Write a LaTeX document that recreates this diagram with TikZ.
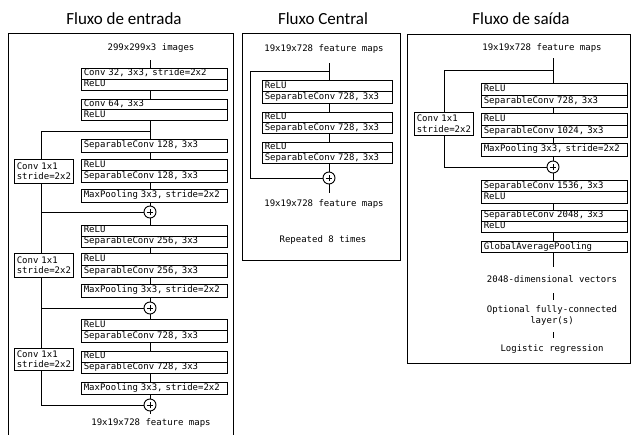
\documentclass[tikz,border=0pt]{standalone}
\usepackage{fontspec}
\setmainfont{Carlito}
\newfontfamily\monof{DejaVu Sans Mono}
\pgfdeclarelayer{bg}
\pgfsetlayers{bg,main}
\newcommand\mfont{\monof\fontsize{9}{10.5}\selectfont}
\begin{document}
\begin{tikzpicture}[x=1pt,y=-1pt,
  every node/.style={inner sep=0pt, outer sep=0pt},
  ttl/.style={font=\fontsize{17}{20}\selectfont},
  lbl/.style={font=\mfont, align=center},
  cell/.style={draw, fill=white, line width=0.9pt, anchor=north west, inner xsep=2.8pt, inner ysep=0pt,
    text width=#1, align=left, font=\mfont, text height=6.5pt, text depth=1.7pt},
  cell/.default=140.4pt,
  cnv/.style={draw, fill=white, line width=0.9pt, anchor=north west, inner xsep=2.8pt, inner ysep=0pt,
    text width=53.4pt, align=left, font=\mfont},
  plusnode/.style={circle, draw, fill=white, line width=0.9pt, minimum size=12pt, inner sep=0pt,
    path picture={\draw[line width=0.6pt] ([xshift=-3.3pt]path picture bounding box.center) -- ([xshift=3.3pt]path picture bounding box.center);
      \draw[line width=0.6pt] ([yshift=-3.3pt]path picture bounding box.center) -- ([yshift=3.3pt]path picture bounding box.center);}},
  conn/.style={line width=0.9pt},
  frame/.style={line width=0.9pt}
]
\useasboundingbox (0,0) rectangle (632,434);

% ---------- titles ----------
\node[ttl] (T1) at (124,19) {Fluxo de entrada};
\node[ttl] (T2) at (323,19) {Fluxo Central};
\node[ttl] (T3) at (521,19) {Fluxo de saída};

% ---------- frames ----------
\draw[frame] (8,440) -- (8,33) -- (233,33) -- (233,440);
\draw[frame] (242,33) rectangle (400,260);
\draw[frame] (407,34) rectangle (630.5,363);

% ---------- left panel ----------
\node[lbl] (in) at (151,48) {299x299x3 images};
\node[cell, minimum height=11pt] (B1a) at (81,68) {Conv 32, 3x3, stride=2x2};
\node[cell, minimum height=11pt] (B1b) at (B1a.south west) {ReLU};
\node[cell, minimum height=10.5pt] (B2a) at (81,99) {Conv 64, 3x3};
\node[cell, minimum height=10.5pt] (B2b) at (B2a.south west) {ReLU};
\node[cell, minimum height=13pt] (B3) at (81,139) {SeparableConv 128, 3x3};
\node[cell, minimum height=11.5pt] (B4a) at (81,159) {ReLU};
\node[cell, minimum height=11.5pt] (B4b) at (B4a.south west) {SeparableConv 128, 3x3};
\node[cell, minimum height=13pt] (B5) at (81,189) {MaxPooling 3x3, stride=2x2};
\node[plusnode] (P1) at (150,212) {};
\node[cell, minimum height=11pt] (B6a) at (81,225) {ReLU};
\node[cell, minimum height=11pt] (B6b) at (B6a.south west) {SeparableConv 256, 3x3};
\node[cell, minimum height=12pt] (B7a) at (81,253) {ReLU};
\node[cell, minimum height=12pt] (B7b) at (B7a.south west) {SeparableConv 256, 3x3};
\node[cell, minimum height=13pt] (B8) at (81,284) {MaxPooling 3x3, stride=2x2};
\node[plusnode] (P2) at (150,308) {};
\node[cell, minimum height=11.5pt] (B9a) at (81,319) {ReLU};
\node[cell, minimum height=11.5pt] (B9b) at (B9a.south west) {SeparableConv 728, 3x3};
\node[cell, minimum height=11pt] (B10a) at (81,351) {ReLU};
\node[cell, minimum height=11pt] (B10b) at (B10a.south west) {SeparableConv 728, 3x3};
\node[cell, minimum height=12pt] (B11) at (81,382) {MaxPooling 3x3, stride=2x2};
\node[plusnode] (P3) at (150,405) {};
\node[lbl] (out1) at (151,423) {19x19x728 feature maps};
\node[cnv, minimum height=24pt] (C1) at (14,159) {Conv 1x1\\stride=2x2};
\node[cnv, minimum height=24pt] (C2) at (14,253) {Conv 1x1\\stride=2x2};
\node[cnv, minimum height=22pt] (C3) at (14,348) {Conv 1x1\\stride=2x2};

\coordinate (Ltop) at (150,60);
\coordinate (J1) at (150,131);
\coordinate (S1) at (41,131);
\coordinate (Lbot) at (150,414);

% ---------- central panel ----------
\node[lbl] (cin) at (324,49) {19x19x728 feature maps};
\node[cell=124.4pt, minimum height=11.5pt] (M1a) at (262,80) {ReLU};
\node[cell=124.4pt, minimum height=11.5pt] (M1b) at (M1a.south west) {SeparableConv 728, 3x3};
\node[cell=124.4pt, minimum height=10.5pt] (M2a) at (262,112) {ReLU};
\node[cell=124.4pt, minimum height=10.5pt] (M2b) at (M2a.south west) {SeparableConv 728, 3x3};
\node[cell=124.4pt, minimum height=10.5pt] (M3a) at (262,142) {ReLU};
\node[cell=124.4pt, minimum height=10.5pt] (M3b) at (M3a.south west) {SeparableConv 728, 3x3};
\node[plusnode] (CP) at (329,178) {};
\node[lbl] (cout) at (324,204) {19x19x728 feature maps};
\node[lbl] (rep) at (323,240) {Repeated 8 times};
\coordinate (Ctop) at (329,63);
\coordinate (CJ) at (329,71);
\coordinate (CS) at (250,71);
\coordinate (Cbot) at (329,193);

% ---------- right panel ----------
\node[lbl] (rin) at (542,48) {19x19x728 feature maps};
\node[cell, minimum height=12pt] (R1a) at (481,83) {ReLU};
\node[cell, minimum height=12pt] (R1b) at (R1a.south west) {SeparableConv 728, 3x3};
\node[cell, minimum height=12pt] (R2a) at (481,113) {ReLU};
\node[cell, minimum height=12pt] (R2b) at (R2a.south west) {SeparableConv 1024, 3x3};
\node[cell, minimum height=13pt] (R3) at (481,143) {MaxPooling 3x3, stride=2x2};
\node[plusnode] (RP) at (553,167) {};
\node[cell, minimum height=11.5pt] (R4a) at (481,180) {SeparableConv 1536, 3x3};
\node[cell, minimum height=11.5pt] (R4b) at (R4a.south west) {ReLU};
\node[cell, minimum height=11pt] (R5a) at (481,210) {SeparableConv 2048, 3x3};
\node[cell, minimum height=11pt] (R5b) at (R5a.south west) {ReLU};
\node[cell, minimum height=11.5pt] (R6) at (481,241) {GlobalAveragePooling};
\node[cnv, minimum height=23pt] (RC) at (414,112) {Conv 1x1\\stride=2x2};
\node[lbl] (vec) at (552,279) {2048-dimensional vectors};
\node[lbl] (fc) at (552,315.5) {Optional fully-connected\\layer(s)};
\node[lbl] (lr) at (552,349) {Logistic regression};
\coordinate (Rtop) at (553,58);
\coordinate (RJ) at (553,70);
\coordinate (RS) at (444,70);
\coordinate (Rbot) at (553,267);
\coordinate (Ra1) at (553,293);
\coordinate (Ra2) at (553,300);
\coordinate (Rb1) at (553,332);
\coordinate (Rb2) at (553,338);

% ---------- connectors ----------
\begin{pgfonlayer}{bg}
  \draw[conn] (Ltop) -- (Lbot);
  \draw[conn] (J1) -- (S1) -- (S1 |- P3) -- (P3);
  \draw[conn] (S1 |- P1) -- (P1);
  \draw[conn] (S1 |- P2) -- (P2);
  \draw[conn] (Ctop) -- (Cbot);
  \draw[conn] (CJ) -- (CS) -- (CS |- CP) -- (CP);
  \draw[conn] (Rtop) -- (Rbot);
  \draw[conn] (RJ) -- (RS) -- (RS |- RP) -- (RP);
  \draw[conn] (Ra1) -- (Ra2);
  \draw[conn] (Rb1) -- (Rb2);
\end{pgfonlayer}
\end{tikzpicture}
\end{document}
